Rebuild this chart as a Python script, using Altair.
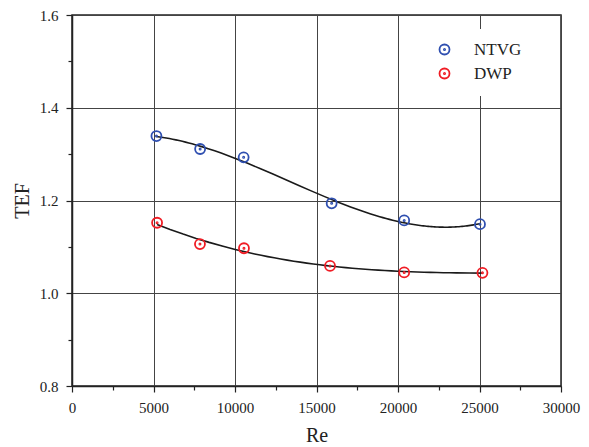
import altair as alt
import pandas as pd

series_names = ["NTVG", "DWP"]
series_colors = ["#2f4fb0", "#f01c24"]

re_ntvg = [5180, 7860, 10530, 15930, 20380, 25030]
tef_ntvg = [1.339, 1.311, 1.293, 1.194, 1.157, 1.149]
re_dwp = [5220, 7850, 10550, 15830, 20380, 25180]
tef_dwp = [1.152, 1.106, 1.097, 1.059, 1.045, 1.044]

x_ticks = [0, 1250, 2500, 3750, 5000, 6250, 7500, 8750, 10000, 11250, 12500,
           13750, 15000, 16250, 17500, 18750, 20000, 21250, 22500, 23750,
           25000, 26250, 27500, 28750, 30000]
y_ticks = [0.8, 0.85, 0.9, 0.95, 1.0, 1.05, 1.1, 1.15, 1.2, 1.25, 1.3, 1.35,
           1.4, 1.45, 1.5, 1.55, 1.6]

df = pd.DataFrame({
    "Re": re_ntvg + re_dwp,
    "TEF": tef_ntvg + tef_dwp,
    "series": [series_names[0]] * len(re_ntvg) + [series_names[1]] * len(re_dwp),
})

DOT_CIRCLE = ("M-1,0A1,1 0 1,1 1,0A1,1 0 1,1 -1,0Z "
              "M-0.12,0A0.12,0.12 0 1,1 0.12,0A0.12,0.12 0 1,1 -0.12,0Z")

FONT = "Liberation Serif"

x_major = "abs(datum.value/5000 - round(datum.value/5000)) < 1e-6"
y_major = "abs(datum.value*5 - round(datum.value*5)) < 1e-6"

x_axis = alt.Axis(
    values=x_ticks, title="Re", labelOverlap=False, labelFlush=False,
    labelExpr=f"{x_major} ? format(datum.value, 'd') : ''",
    tickSize={"condition": {"test": x_major, "value": 6}, "value": 4},
    gridOpacity={"condition": {"test": x_major, "value": 1}, "value": 0},
    labelPadding=8, titlePadding=10,
)
y_axis = alt.Axis(
    values=y_ticks, title="TEF", labelOverlap=False, labelFlush=False,
    labelExpr=f"{y_major} ? format(datum.value, '.1f') : ''",
    tickSize={"condition": {"test": y_major, "value": 6}, "value": 4},
    gridOpacity={"condition": {"test": y_major, "value": 1}, "value": 0},
    labelPadding=8, titlePadding=7,
)

xs = alt.Scale(domain=[0, 30000], nice=False)
ys = alt.Scale(domain=[0.8, 1.6], nice=False, zero=False)

lines = alt.Chart(df).transform_regression(
    "Re", "TEF", groupby=["series"], method="poly", order=3
).mark_line(color="#1a1a1a", strokeWidth=1.6).encode(
    x=alt.X("Re:Q", scale=xs, axis=x_axis),
    y=alt.Y("TEF:Q", scale=ys, axis=y_axis),
    detail="series:N",
)

points = alt.Chart(df).mark_point(
    filled=False, size=100, strokeWidth=1.8, opacity=1, shape=DOT_CIRCLE
).encode(
    x=alt.X("Re:Q", scale=xs),
    y=alt.Y("TEF:Q", scale=ys),
    color=alt.Color(
        "series:N",
        scale=alt.Scale(domain=series_names, range=series_colors),
        legend=alt.Legend(
            title=None, orient="none", legendX=352, legendY=14,
            symbolType=DOT_CIRCLE, symbolSize=100, symbolStrokeWidth=1.8,
            labelFont=FONT, labelFontSize=17, labelColor="#222",
            labelOffset=21, rowPadding=5, padding=12,
            fillColor="white", strokeColor="white",
        ),
    ),
)

chart = alt.layer(lines, points).properties(
    width=489, height=371,
    autosize=alt.AutoSizeParams(type="none"),
    padding={"left": 72, "top": 15, "right": 28, "bottom": 61},
).configure_view(
    stroke="#222", strokeWidth=1.5
).configure_axis(
    labelFont=FONT, labelFontSize=15, labelColor="#222",
    titleFont=FONT, titleFontSize=20, titleFontWeight="normal", titleColor="#222",
    domainColor="#222", domainWidth=1.5,
    tickColor="#222", tickWidth=1.2,
    gridColor="#444", gridWidth=1,
)

chart.save("out.html", embed_options={"renderer": "svg", "actions": False})
